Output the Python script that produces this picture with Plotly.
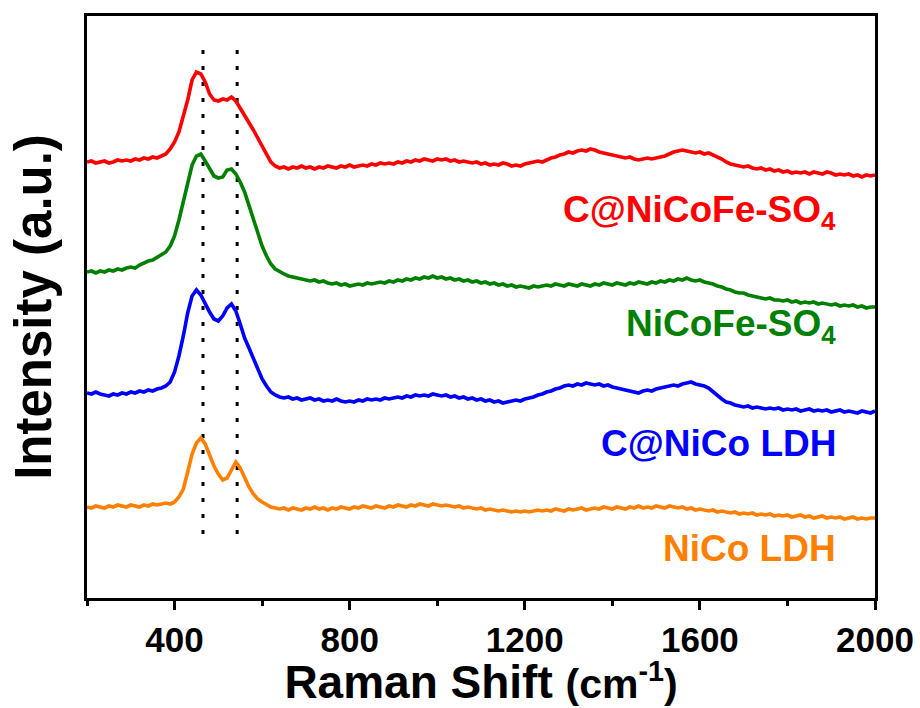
import plotly.graph_objects as go

# Raman shift grid (cm^-1), one reading every 10 cm^-1
shift = list(range(200, 2001, 10))

# Stacked spectra (offset intensities, a.u.)
c_nicofe_so4 = [
    436, 437, 435, 436, 437, 435, 436, 438, 437, 438, 437, 439, 438, 440, 439, 441, 440, 442, 444, 449,
    456, 466, 482, 498, 518, 526, 524, 516, 504, 498, 497, 499, 498, 501, 497, 490, 483, 476, 468, 460,
    452, 444, 436, 432, 430, 431, 429, 431, 430, 432, 430, 431, 429, 431, 430, 432, 431, 430, 432, 431,
    433, 431, 432, 433, 432, 434, 433, 435, 434, 435, 434, 436, 435, 437, 436, 438, 437, 439, 438, 437,
    439, 438, 439, 437, 438, 436, 437, 436, 435, 436, 434, 435, 433, 434, 433, 435, 434, 432, 433, 432,
    434, 435, 436, 437, 436, 438, 440, 441, 443, 444, 446, 445, 447, 448, 447, 449, 448, 446, 445, 444,
    443, 442, 441, 440, 441, 439, 438, 439, 440, 439, 440, 441, 442, 444, 446, 447, 448, 447, 446, 445,
    446, 444, 445, 443, 441, 439, 436, 434, 433, 432, 431, 432, 430, 429, 430, 428, 429, 427, 428, 426,
    427, 425, 426, 425, 426, 424, 426, 425, 424, 426, 425, 423, 424, 423, 424, 422, 423, 421, 423, 422,
    423,
]
nicofe_so4 = [
    326, 327, 325, 327, 326, 328, 327, 329, 328, 330, 331, 330, 333, 335, 337, 338, 341, 343, 346, 352,
    362, 378, 396, 416, 433, 442, 444, 437, 429, 422, 420, 421, 428, 429, 424, 416, 406, 393, 380, 366,
    352, 342, 334, 329, 326, 324, 322, 321, 320, 319, 318, 317, 318, 316, 317, 315, 314, 315, 313, 314,
    312, 313, 314, 313, 315, 314, 315, 316, 315, 317, 316, 318, 317, 319, 318, 320, 319, 321, 320, 322,
    320, 321, 319, 320, 318, 319, 317, 318, 316, 317, 315, 316, 314, 315, 313, 314, 312, 313, 311, 312,
    311, 310, 312, 311, 312, 313, 312, 314, 313, 312, 314, 313, 312, 314, 313, 312, 314, 313, 315, 314,
    313, 315, 314, 313, 315, 314, 316, 315, 314, 316, 315, 317, 316, 318, 317, 319, 318, 320, 318, 317,
    318, 316, 315, 314, 312, 311, 309, 308, 306, 305, 305, 303, 302, 301, 300, 299, 300, 298, 298, 297,
    298, 296, 297, 295, 296, 295, 296, 294, 295, 294, 293, 294, 292, 293, 292, 293, 291, 292, 290, 291,
    291,
]
c_nico_ldh = [
    205, 204, 206, 204, 203, 202, 204, 203, 205, 204, 206, 205, 207, 206, 208, 207, 209, 210, 212, 216,
    226, 242, 262, 285, 302, 308, 303, 294, 286, 279, 277, 282, 290, 294, 287, 274, 260, 250, 240, 229,
    219, 212, 206, 203, 201, 200, 201, 199, 200, 198, 199, 200, 198, 199, 197, 198, 197, 199, 197, 196,
    197, 196, 198, 197, 199, 198, 199, 198, 200, 199, 200, 201, 200, 202, 201, 203, 202, 203, 202, 204,
    203, 202, 203, 201, 202, 200, 201, 199, 200, 198, 199, 197, 198, 196, 197, 195, 196, 197, 198, 197,
    199, 200, 201, 203, 204, 206, 207, 209, 210, 212, 213, 212, 214, 213, 215, 214, 213, 214, 212, 213,
    211, 210, 209, 208, 207, 206, 205, 207, 208, 207, 209, 210, 211, 212, 213, 212, 214, 215, 216, 214,
    213, 212, 210, 206, 202, 199, 196, 195, 193, 192, 191, 192, 190, 191, 190, 189, 190, 189, 190, 188,
    189, 188, 189, 187, 188, 189, 187, 188, 187, 188, 186, 187, 188, 186, 187, 186, 185, 187, 186, 185,
    187,
]
nico_ldh = [
    91, 90, 92, 91, 90, 92, 91, 93, 92, 91, 93, 92, 91, 93, 92, 94, 93, 94, 95, 94,
    96, 101, 109, 126, 144, 155, 160, 154, 143, 132, 124, 118, 120, 129, 136, 130, 120, 111, 104, 99,
    96, 93, 91, 90, 89, 90, 88, 90, 89, 88, 90, 89, 91, 89, 90, 88, 90, 89, 91, 90,
    89, 91, 90, 92, 91, 90, 92, 91, 90, 92, 91, 93, 92, 91, 93, 92, 94, 93, 92, 94,
    93, 92, 93, 92, 91, 92, 90, 91, 90, 89, 90, 88, 89, 88, 87, 88, 87, 86, 87, 86,
    87, 86, 87, 88, 87, 88, 87, 89, 88, 87, 89, 88, 89, 90, 88, 89, 90, 89, 91, 90,
    89, 91, 90, 89, 91, 90, 92, 90, 91, 90, 92, 91, 90, 92, 91, 90, 91, 89, 90, 88,
    89, 88, 87, 88, 86, 87, 86, 85, 86, 84, 85, 84, 85, 83, 84, 83, 84, 82, 83, 82,
    83, 81, 82, 83, 81, 82, 80, 81, 82, 80, 81, 80, 81, 79, 80, 81, 79, 80, 79, 80,
    80,
]

series_names = ["C@NiCoFe-SO<sub>4</sub>", "NiCoFe-SO<sub>4</sub>", "C@NiCo LDH", "NiCo LDH"]
series_values = [c_nicofe_so4, nicofe_so4, c_nico_ldh, nico_ldh]
series_colors = ["#FF0000", "#008000", "#0000FF", "#FF8000"]
label_levels = [386, 272, 155, 50]

# Reference band positions marked by dotted guides (cm^-1)
band_positions = [465, 543]
band_span = [64, 552]

FONT = "Liberation Sans, Arial, sans-serif"

fig = go.Figure()

for x0 in band_positions:
    fig.add_trace(go.Scatter(
        x=[x0, x0], y=band_span, mode="lines",
        line=dict(color="black", width=3, dash="4px,12px"),
        showlegend=False, hoverinfo="skip",
    ))

for name, vals, col in zip(series_names, series_values, series_colors):
    fig.add_trace(go.Scatter(
        x=shift, y=vals, mode="lines", name=name,
        line=dict(color=col, width=3.6),
        showlegend=False,
    ))

for name, col, lvl in zip(series_names, series_colors, label_levels):
    fig.add_annotation(
        x=1915, y=lvl, xref="x", yref="y", text=name, showarrow=False,
        xanchor="right", yanchor="middle",
        font=dict(family=FONT, size=37, color=col, weight="bold"),
    )

fig.update_xaxes(
    range=[200, 2000], tick0=0, dtick=400,
    ticks="outside", ticklen=9, tickwidth=3, tickcolor="black",
    minor=dict(tick0=200, dtick=400, ticks="outside", ticklen=5, tickwidth=3, tickcolor="black"),
    showline=True, linewidth=3, linecolor="black", mirror=True,
    showgrid=False, zeroline=False, automargin=False,
    tickfont=dict(family=FONT, size=35, color="black", weight="bold"),
    title=dict(
        text="Raman Shift <span style='font-size:41px'>(cm<sup>-1</sup>)</span>",
        font=dict(family=FONT, size=46, color="black", weight="bold"),
        standoff=10,
    ),
)
fig.update_yaxes(
    range=[0, 582], showticklabels=False, ticks="",
    showline=True, linewidth=3, linecolor="black", mirror=True,
    showgrid=False, zeroline=False, automargin=False,
    title=dict(
        text="Intensity (a.u.)",
        font=dict(family=FONT, size=51, color="black", weight="bold"),
        standoff=17,
    ),
)

fig.update_layout(
    width=920, height=708,
    margin=dict(l=87, r=45, t=16, b=110, autoexpand=False),
    paper_bgcolor="white", plot_bgcolor="white",
)

fig.write_html("out.html")
